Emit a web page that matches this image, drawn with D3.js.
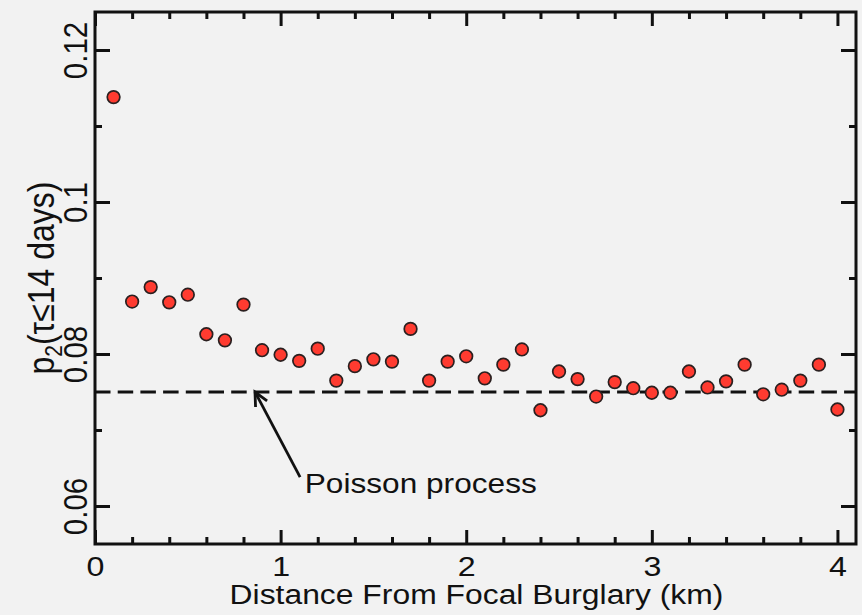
<!DOCTYPE html>
<html>
<head>
<meta charset="utf-8">
<script src="https://cdn.jsdelivr.net/npm/d3@7"></script>
<style>
  html, body { margin: 0; padding: 0; background: #f2f2f2; }
  svg { display: block; }
  text { font-family: "Liberation Sans", Arial, Helvetica, sans-serif; fill: #111; }
</style>
</head>
<body>
<svg id="chart" width="862" height="615"></svg>
<script>
// ---- data ----
const distances = [0.1,0.2,0.3,0.4,0.5,0.6,0.7,0.8,0.9,1.0,
                   1.1,1.2,1.3,1.4,1.5,1.6,1.7,1.8,1.9,2.0,
                   2.1,2.2,2.3,2.4,2.5,2.6,2.7,2.8,2.9,3.0,
                   3.1,3.2,3.3,3.4,3.5,3.6,3.7,3.8,3.9,4.0];
const p2Values = [0.1138,0.0869,0.0888,0.0868,0.0878,0.0826,0.0818,0.0865,0.0805,0.0799,
                  0.0791,0.0807,0.0765,0.0784,0.0793,0.0790,0.0833,0.0765,0.0790,0.0797,
                  0.0768,0.0786,0.0806,0.0726,0.0777,0.0767,0.0744,0.0763,0.0755,0.0749,
                  0.0749,0.0777,0.0756,0.0764,0.0786,0.0747,0.0753,0.0765,0.0786,0.0727];
const poissonLevel = 0.075;
const xMajorTicks = [0, 1, 2, 3, 4];
const xTickLabels = ["0", "1", "2", "3", "4"];
const xMinorTicks = [0.2,0.4,0.6,0.8,1.2,1.4,1.6,1.8,2.2,2.4,2.6,2.8,3.2,3.4,3.6,3.8];
const yMajorTicks = [0.06, 0.08, 0.10, 0.12];
const yTickLabels = ["0.06", "0.08", "0.1", "0.12"];
const yMinorTicks = [0.07, 0.09, 0.11];
const xTitle = "Distance From Focal Burglary (km)";
const annotationText = "Poisson process";
const arrowTip = [0.862, 0.075];
const arrowTail = [1.105, 0.0638];
const annotationAnchor = [1.13, 0.0617];

// ---- layout ----
const L = 95, R = 856, T = 12, B = 544;
const SX = 1.13; // horizontal stretch of glyphs in reference

const svg = d3.select("#chart");
svg.append("rect").attr("width", 862).attr("height", 615).attr("fill", "#f2f2f2");

const x = d3.scaleLinear().domain([0, 4.1]).range([L, R]);
const y = d3.scaleLinear().domain([0.055, 0.125]).range([B, T]);

function styleAxis(g) {
  g.select(".domain").remove();
  g.selectAll(".tick line").attr("stroke", "#111").attr("stroke-width", 3);
}

// bottom axis major
const gxb = svg.append("g").attr("transform", `translate(0,${B})`)
  .call(d3.axisBottom(x).tickValues(xMajorTicks).tickSize(-14)
        .tickFormat((d, i) => xTickLabels[i]));
styleAxis(gxb);
gxb.selectAll(".tick text")
  .attr("y", null).attr("dy", null)
  .attr("transform", `translate(0,32) scale(${SX},1)`)
  .attr("font-size", 28.5).attr("fill", "#111")
  .style("font-family", '"Liberation Sans", Arial, sans-serif');

// bottom axis minor
const gxbm = svg.append("g").attr("transform", `translate(0,${B})`)
  .call(d3.axisBottom(x).tickValues(xMinorTicks).tickSize(-7).tickFormat(""));
styleAxis(gxbm);

// top axis major & minor
const gxt = svg.append("g").attr("transform", `translate(0,${T})`)
  .call(d3.axisTop(x).tickValues(xMajorTicks).tickSize(-14).tickFormat(""));
styleAxis(gxt);
const gxtm = svg.append("g").attr("transform", `translate(0,${T})`)
  .call(d3.axisTop(x).tickValues(xMinorTicks).tickSize(-7).tickFormat(""));
styleAxis(gxtm);

// left axis
const gyl = svg.append("g").attr("transform", `translate(${L},0)`)
  .call(d3.axisLeft(y).tickValues(yMajorTicks).tickSize(-15)
        .tickFormat((d, i) => yTickLabels[i]));
styleAxis(gyl);
gyl.selectAll(".tick text")
  .attr("x", null).attr("dy", null)
  .attr("text-anchor", "middle")
  .attr("transform", `translate(-8,0) scale(${SX},1) rotate(-90)`)
  .attr("font-size", 29.5).attr("fill", "#111")
  .style("font-family", '"Liberation Sans", Arial, sans-serif');
const gylm = svg.append("g").attr("transform", `translate(${L},0)`)
  .call(d3.axisLeft(y).tickValues(yMinorTicks).tickSize(-7).tickFormat(""));
styleAxis(gylm);

// right axis
const gyr = svg.append("g").attr("transform", `translate(${R},0)`)
  .call(d3.axisRight(y).tickValues(yMajorTicks).tickSize(-15).tickFormat(""));
styleAxis(gyr);
const gyrm = svg.append("g").attr("transform", `translate(${R},0)`)
  .call(d3.axisRight(y).tickValues(yMinorTicks).tickSize(-7).tickFormat(""));
styleAxis(gyrm);

// frame
svg.append("rect")
  .attr("x", L).attr("y", T).attr("width", R - L).attr("height", B - T)
  .attr("fill", "none").attr("stroke", "#111").attr("stroke-width", 3);

// Poisson dashed line
svg.append("line")
  .attr("x1", x(0)).attr("x2", x(4.1))
  .attr("y1", y(poissonLevel)).attr("y2", y(poissonLevel))
  .attr("stroke", "#111").attr("stroke-width", 3.2)
  .attr("stroke-dasharray", "15.5,7.2");

// points
svg.append("g").selectAll("circle")
  .data(distances.map((d, i) => [d, p2Values[i]]))
  .join("circle")
  .attr("cx", d => x(d[0])).attr("cy", d => y(d[1]))
  .attr("r", 6.3)
  .attr("fill", "#ff3b30")
  .attr("stroke", "#2a2020").attr("stroke-width", 1.7);

// arrow annotation
const tx = x(arrowTip[0]), ty = y(arrowTip[1]);
const ex = x(arrowTail[0]), ey = y(arrowTail[1]);
svg.append("line").attr("x1", ex).attr("y1", ey).attr("x2", tx).attr("y2", ty)
  .attr("stroke", "#111").attr("stroke-width", 2.8);
const ang = Math.atan2(ey - ty, ex - tx);
const hl = 15, ha = 0.45;
const headPath = d3.path();
headPath.moveTo(tx + hl * Math.cos(ang - ha), ty + hl * Math.sin(ang - ha));
headPath.lineTo(tx, ty);
headPath.lineTo(tx + hl * Math.cos(ang + ha), ty + hl * Math.sin(ang + ha));
svg.append("path").attr("d", headPath.toString())
  .attr("fill", "none").attr("stroke", "#111").attr("stroke-width", 2.8)
  .attr("stroke-linejoin", "miter");

svg.append("text")
  .attr("transform", `translate(${x(annotationAnchor[0])},${y(annotationAnchor[1])}) scale(${SX},1)`)
  .attr("font-size", 28)
  .text(annotationText);

// x title
svg.append("text")
  .attr("transform", `translate(${(L + R) / 2 + 1},604) scale(${SX},1)`)
  .attr("text-anchor", "middle")
  .attr("font-size", 28.2)
  .text(xTitle);

// y title
const yt = svg.append("text")
  .attr("transform", `translate(54,${(T + B) / 2}) scale(${SX},1) rotate(-90)`)
  .attr("text-anchor", "middle")
  .attr("font-size", 32);
yt.append("tspan").text("p");
yt.append("tspan").attr("font-size", 21).attr("dy", 7).text("2");
yt.append("tspan").attr("dy", -7).text("(τ≤14 days)");
</script>
</body>
</html>
